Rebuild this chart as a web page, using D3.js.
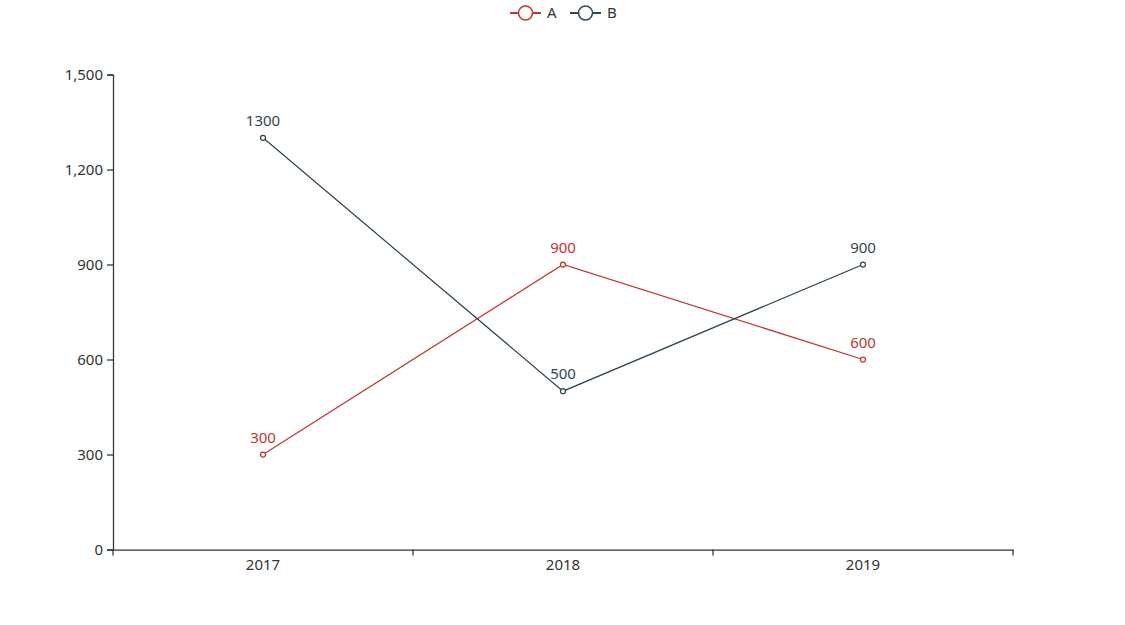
<!DOCTYPE html>
<html>
<head>
<meta charset="utf-8">
<script src="https://cdn.jsdelivr.net/npm/d3@7"></script>
<style>
  body { margin: 0; background: #fff; }
  text { font-family: "Noto Sans", "Open Sans", sans-serif; }
</style>
</head>
<body>
<div id="chart"></div>
<script>
const categories = ['2017', '2018', '2019'];
const seriesNames = ['A', 'B'];
const valuesA = [300, 900, 600];
const valuesB = [1300, 500, 900];
const yTicks = [0, 300, 600, 900, 1200, 1500];
const colors = ['#c23531', '#2f4554'];

const series = [
  { name: seriesNames[0], values: valuesA, color: colors[0] },
  { name: seriesNames[1], values: valuesB, color: colors[1] }
];

const W = 1125, H = 625;
const margin = { left: 113, right: 112, top: 74.5, bottom: 75.5 };

const svg = d3.select('#chart').append('svg')
  .attr('width', W)
  .attr('height', H);

const x = d3.scaleBand()
  .domain(categories)
  .range([margin.left, W - margin.right]);

const y = d3.scaleLinear()
  .domain([0, 1500])
  .range([H - margin.bottom, margin.top]);

// y axis
const yAxis = svg.append('g')
  .attr('transform', `translate(${margin.left},0)`)
  .call(d3.axisLeft(y).tickValues(yTicks).tickFormat(d3.format(',')).tickSizeOuter(0).tickSize(6).tickPadding(4));

// x axis
const xAxis = svg.append('g')
  .attr('transform', `translate(0,${H - margin.bottom})`)
  .call(d3.axisBottom(x).tickSize(0).tickPadding(10).tickSizeOuter(0));

// x ticks at band boundaries
const bounds = categories.map(c => x(c)).concat([x.range()[1]]);
xAxis.selectAll('.bound')
  .data(bounds)
  .enter()
  .append('line')
  .attr('class', 'bound')
  .attr('x1', d => d).attr('x2', d => d)
  .attr('y1', 0).attr('y2', 6)
  .attr('stroke', '#333')
  .attr('stroke-width', 1.25);

[yAxis, xAxis].forEach(ax => {
  ax.select('.domain').attr('stroke', '#333').attr('stroke-width', 1.25);
  ax.selectAll('.tick line').attr('stroke', '#333').attr('stroke-width', 1.25);
  ax.selectAll('.tick text').attr('fill', '#333').style('font-size', '15px');
});

const cx = c => x(c) + x.bandwidth() / 2;

const line = d3.line()
  .x((d, i) => cx(categories[i]))
  .y(d => y(d));

series.forEach(s => {
  const g = svg.append('g');
  g.append('path')
    .attr('d', line(s.values))
    .attr('fill', 'none')
    .attr('stroke', s.color)
    .attr('stroke-width', 1.25);

  g.selectAll('circle')
    .data(s.values)
    .enter()
    .append('circle')
    .attr('cx', (d, i) => cx(categories[i]))
    .attr('cy', d => y(d))
    .attr('r', 2.5)
    .attr('fill', '#fff')
    .attr('stroke', s.color)
    .attr('stroke-width', 1.25);

  g.selectAll('text')
    .data(s.values)
    .enter()
    .append('text')
    .attr('x', (d, i) => cx(categories[i]))
    .attr('y', d => y(d) - 12)
    .attr('text-anchor', 'middle')
    .attr('fill', s.color)
    .style('font-size', '15px')
    .text(d => d);
});

// legend
const legendX = [510, 570];
const legend = svg.append('g');
series.forEach((s, i) => {
  const lg = legend.append('g').attr('transform', `translate(${legendX[i]},13)`);
  lg.append('line')
    .attr('x1', 0).attr('x2', 31)
    .attr('y1', 0).attr('y2', 0)
    .attr('stroke', s.color)
    .attr('stroke-width', 2);
  lg.append('circle')
    .attr('cx', 15.5).attr('cy', 0)
    .attr('r', 7)
    .attr('fill', '#fff')
    .attr('stroke', s.color)
    .attr('stroke-width', 1.5);
  lg.append('text')
    .attr('x', 37)
    .attr('y', 0)
    .attr('dy', '0.35em')
    .attr('fill', '#333')
    .style('font-size', '15px')
    .text(s.name);
});
</script>
</body>
</html>
